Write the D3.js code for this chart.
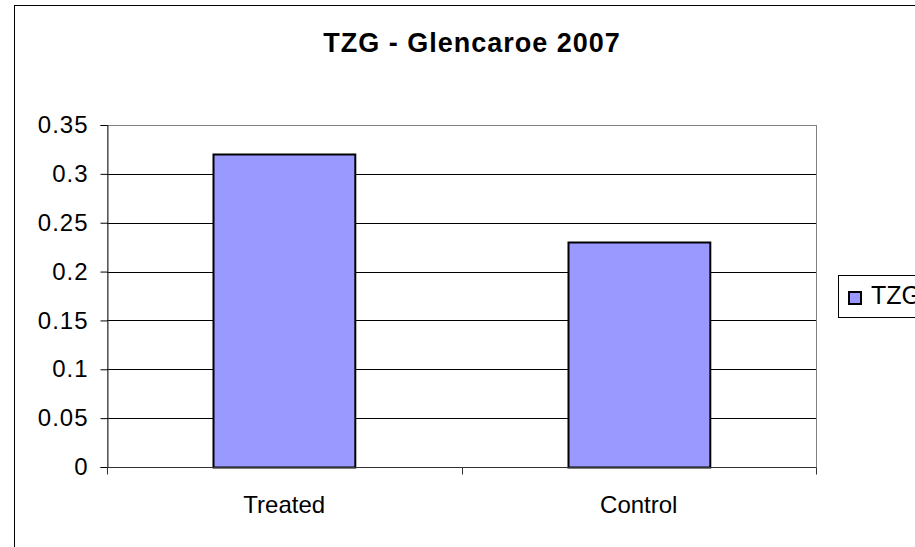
<!DOCTYPE html>
<html><head><meta charset="utf-8">
<script src="https://cdn.jsdelivr.net/npm/d3@7"></script>
<style>body{margin:0;background:#fff;}svg{display:block;font-family:"Liberation Sans",Arial,sans-serif;}</style>
</head><body>
<svg id="c" width="915" height="547"></svg>
<script>
const categories = ["Treated", "Control"];
const seriesName = "TZG";
const values = [0.32, 0.23];
const yTicks = [0, 0.05, 0.1, 0.15, 0.2, 0.25, 0.3, 0.35];
const title = "TZG - Glencaroe 2007";

const svg = d3.select("#c");
svg.append("rect").attr("x", 14.5).attr("y", 5.5).attr("width", 940).attr("height", 580)
  .attr("fill", "#fff").attr("stroke", "#000").attr("stroke-width", 1);

const L = 107, R = 816, T = 125, B = 467;
const x = d3.scaleBand().domain(categories).range([L, R]).paddingInner(0.6).paddingOuter(0.3);
const y = d3.scaleLinear().domain([0, 0.35]).range([B, T]);

// plot area border (gray)
svg.append("rect").attr("x", L + 0.5).attr("y", T + 0.5).attr("width", R - L).attr("height", B - T)
  .attr("fill", "none").attr("stroke", "#808080");

// gridlines
svg.append("g").selectAll("line").data(yTicks.filter(d => d > 0 && d < 0.35)).join("line")
  .attr("x1", L).attr("x2", R).attr("y1", d => Math.round(y(d)) + 0.5).attr("y2", d => Math.round(y(d)) + 0.5)
  .attr("stroke", "#000");

// bars
svg.append("g").selectAll("rect").data(values).join("rect")
  .attr("x", (d, i) => Math.round(x(categories[i])) + 0.5)
  .attr("y", d => Math.round(y(d)) + 0.5)
  .attr("width", x.bandwidth())
  .attr("height", d => B - Math.round(y(d)))
  .attr("fill", "#9999ff").attr("stroke", "#000").attr("stroke-width", 2);

// y axis
const yAxis = d3.axisLeft(y).tickValues(yTicks).tickSize(7).tickPadding(12)
  .tickFormat(d => d3.format("")(+d.toFixed(2)));
const gy = svg.append("g").attr("transform", `translate(${L + 0.5},0)`).call(yAxis);
gy.select(".domain").attr("stroke", "#333");
gy.selectAll(".tick line").attr("stroke", "#000");
gy.selectAll(".tick text").attr("font-size", 24).attr("fill", "#000")
  .attr("letter-spacing", 1)
  .attr("font-family", "Liberation Sans, Arial, sans-serif");

// x axis
const gx = svg.append("g").attr("transform", `translate(0,${B + 0.5})`);
gx.append("line").attr("x1", L).attr("x2", R).attr("stroke", "#333");
const bounds = [L, (L + R) / 2, R];
gx.selectAll("line.t").data(bounds).join("line").attr("class", "t")
  .attr("x1", d => Math.round(d) + 0.5).attr("x2", d => Math.round(d) + 0.5).attr("y1", 0).attr("y2", 7)
  .attr("stroke", "#333");
gx.selectAll("text").data(categories).join("text")
  .attr("x", d => x(d) + x.bandwidth() / 2).attr("y", 45)
  .attr("text-anchor", "middle").attr("font-size", 24).text(d => d);

// title
svg.append("text").attr("x", 472).attr("y", 52).attr("text-anchor", "middle")
  .attr("font-size", 27).attr("font-weight", "bold").attr("letter-spacing", 1).text(title);

// legend
svg.append("rect").attr("x", 838.5).attr("y", 275.5).attr("width", 100).attr("height", 42)
  .attr("fill", "#fff").attr("stroke", "#000");
svg.append("rect").attr("x", 849).attr("y", 292).attr("width", 12).attr("height", 12)
  .attr("fill", "#9999ff").attr("stroke", "#000").attr("stroke-width", 2);
svg.append("text").attr("x", 871).attr("y", 304).attr("font-size", 25).text(seriesName);
</script>
</body></html>
